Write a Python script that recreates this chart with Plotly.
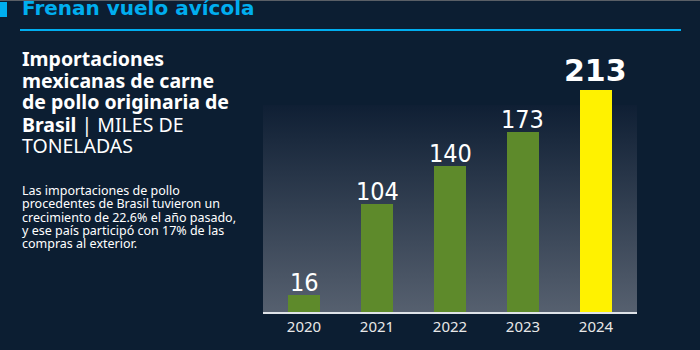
import plotly.graph_objects as go

# ---- data ----
years = ["2020", "2021", "2022", "2023", "2024"]
imports = [16, 104, 140, 173, 213]
bar_colors = ["#5e8a2b", "#5e8a2b", "#5e8a2b", "#5e8a2b", "#fff200"]

title = "Frenan vuelo avícola"
subtitle_lines = [
    "<b>Importaciones</b>",
    "<b>mexicanas de carne</b>",
    "<b>de pollo originaria de</b>",
    "<b>Brasil</b> | MILES DE",
    "TONELADAS",
]
paragraph_lines = [
    "Las importaciones de pollo",
    "procedentes de Brasil tuvieron un",
    "crecimiento de 22.6% el año pasado,",
    "y ese país participó con 17% de las",
    "compras al exterior.",
]

# ---- layout constants ----
W, H = 700, 350
BG = "#0c1e32"
L, R, T, B = 263, 63, 40, 38
PW = W - L - R
PH = H - T - B
YMAX = PH / 1.042
XR = [-0.562, 4.562]
NARROW = "DejaVu Sans Condensed, Liberation Sans Narrow, Roboto, sans-serif"


def px(x):
    return (x - L) / PW


def py(y):
    return (H - B - y) / PH


fig = go.Figure()

# gradient panel behind the bars (on a hidden linear x axis)
panel_top = (H - B - 105) / PH * YMAX
fig.add_trace(go.Scatter(
    x=[0, 1, 1, 0, 0],
    y=[0, 0, panel_top, panel_top, 0],
    xaxis="x", yaxis="y",
    mode="none", fill="toself",
    fillgradient=dict(type="vertical",
                      colorscale=[[0, "#56606f"], [1, "#0f1f34"]]),
    hoverinfo="skip", showlegend=False,
))

fig.add_trace(go.Bar(
    x=years, y=imports, xaxis="x2", yaxis="y",
    marker=dict(color=bar_colors, line=dict(width=0)),
    width=0.44, showlegend=False, hoverinfo="skip",
))

annotations = []
for i, (yr, v) in enumerate(zip(years, imports)):
    if yr == "2024":
        annotations.append(dict(
            x=i, y=v, xref="x2", yref="y", text=f"<b>{v}</b>", showarrow=False,
            yanchor="bottom", yshift=0,
            font=dict(family="DejaVu Sans", size=30, color="#ffffff")))
    else:
        annotations.append(dict(
            x=i, y=v, xref="x2", yref="y", text=str(v), showarrow=False,
            yanchor="bottom", yshift=-4,
            font=dict(family=NARROW, size=25, color="#ffffff")))

# title
annotations.append(dict(
    x=px(20), y=py(15), xref="paper", yref="paper", xanchor="left", yanchor="middle",
    yshift=0.35 * 20, text=f"<b>{title}</b>", showarrow=False,
    font=dict(family="DejaVu Sans", size=20, color="#00aeef")))

# subtitle
sub_baselines = [65, 87, 108.5, 131, 152]
for line, bl in zip(subtitle_lines, sub_baselines):
    annotations.append(dict(
        x=px(20), y=py(bl), xref="paper", yref="paper", xanchor="left", yanchor="middle",
        yshift=0.35 * 19.5, text=line, showarrow=False,
        font=dict(family="Noto Sans", size=19.5, color="#ffffff")))

para_baselines = [195, 208.3, 221.6, 234.9, 248.2]
for line, bl in zip(paragraph_lines, para_baselines):
    annotations.append(dict(
        x=px(20), y=py(bl), xref="paper", yref="paper", xanchor="left", yanchor="middle",
        yshift=0.35 * 12.5, text=line, showarrow=False,
        font=dict(family="Noto Sans", size=12.5, color="#ffffff")))

shapes = [
    dict(type="line", xref="paper", yref="paper", x0=px(0), x1=px(700), y0=py(0.5), y1=py(0.5),
         line=dict(color="#5a5f66", width=1)),
    dict(type="rect", xref="paper", yref="paper", x0=px(0), x1=px(7), y0=py(2), y1=py(17),
         fillcolor="#00aeef", line=dict(width=0)),
    dict(type="line", xref="paper", yref="paper", x0=px(20), x1=px(681), y0=py(30), y1=py(30),
         line=dict(color="#00aeef", width=2)),
]

fig.update_layout(
    width=W, height=H,
    margin=dict(l=L, r=R, t=T, b=B, pad=0),
    paper_bgcolor=BG, plot_bgcolor="rgba(0,0,0,0)",
    annotations=annotations, shapes=shapes,
    bargap=0,
    xaxis=dict(range=[0, 1], visible=False, showgrid=False, zeroline=False,
               fixedrange=True),
    xaxis2=dict(type="category", range=XR, overlaying="x", anchor="y", side="bottom",
                showgrid=False, zeroline=False,
                showline=True, linecolor="#dfe3e8", linewidth=2, ticks="",
                tickfont=dict(family="Noto Sans", size=15, color="#e8e8e8"),
                fixedrange=True),
    yaxis=dict(range=[0, YMAX], visible=False, showgrid=False, zeroline=False,
               fixedrange=True),
)

fig.write_html("out.html")
